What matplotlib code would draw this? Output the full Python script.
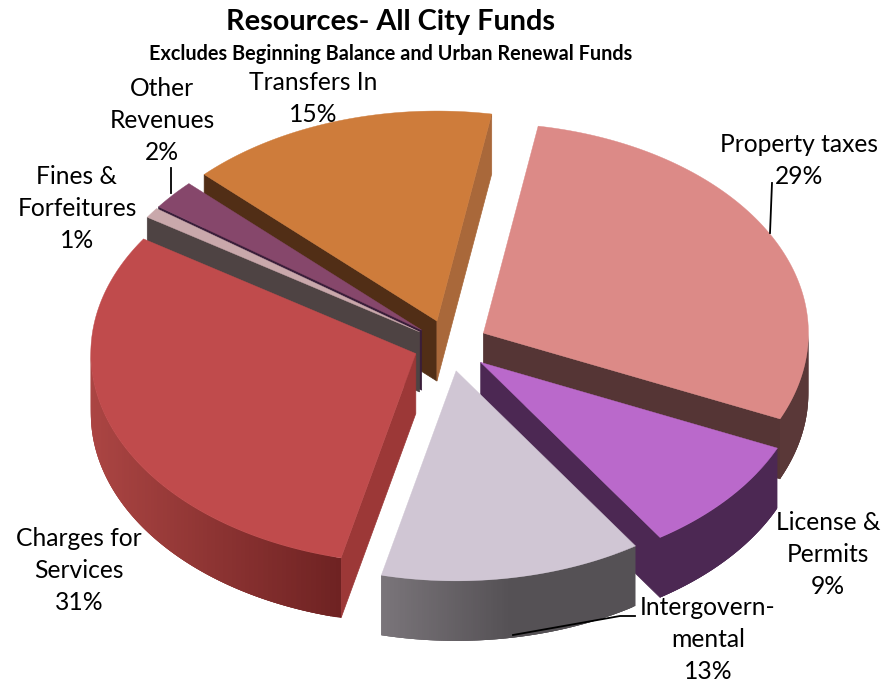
import matplotlib
matplotlib.use('Agg')
import numpy as np
from matplotlib import pyplot as plt
from matplotlib.colors import to_rgb

plt.rcParams['font.family'] = ['Lato', 'DejaVu Sans']

# Data, clockwise from the top of the pie
names = ['Property taxes', 'License &\nPermits', 'Intergovern-\nmental', 'Charges for\nServices',
         'Fines &\nForfeitures', 'Other\nRevenues', 'Transfers In']
values = [29.0, 9.0, 13.0, 30.5, 0.8, 2.3, 15.4]
percent_labels = ['29%', '9%', '13%', '31%', '1%', '2%', '15%']
explode = [0.12, 0.128, 0.125, 0.11, 0.11, 0.11, 0.12]

top_colors = ['#DC8A87', '#BA69CB', '#D0C6D4', '#C04B4C', '#C9A8AB', '#86476B', '#CE7C3B']
start_face = ['#553535', '#4C2853', '#555155', '#9C3837', '#4E4343', '#3A1E3A', '#512E16']
end_face = ['#553535', '#4C2853', '#555155', '#9C3837', '#4E4343', '#3A1E3A', '#A9683A']
rim_left = ['#553535', '#4C2853', '#7A757A', '#AB4543', '#4E4343', '#3A1E3A', '#512E16']
rim_right = ['#5A3838', '#4C2853', '#555155', '#6E2222', '#4E4343', '#3A1E3A', '#512E16']
grad_lo = [0, 0, -0.228, -1, -1, -1, -1]
grad_hi = [1, 1, 0.166, -0.228, 1, 1, 1]

label_pos = [(799, 144), (828, 523), (708, 607.5), (79, 538), (77, 177), (162, 88), (313, 82)]
leaders = [[(772, 183), (770, 233)], [(170.5, 168), (170.5, 193)], [(513, 635), (620, 616), (635, 616)]]

draw_order = [6, 5, 4, 0, 3, 1, 2]

# Pie geometry in pixels
cx, cy = 449, 345
rx, ry = 325, 210
depth = 60
first_angle = 80.3


def edge(a, ox, oy):
    a = np.radians(a)
    return ox + rx * np.cos(a), oy - ry * np.sin(a)


fig = plt.figure(figsize=(8.81, 6.84), dpi=100)
ax = fig.add_axes([0, 0, 1, 1])
ax.set_xlim(0, 881)
ax.set_ylim(684, 0)
ax.axis('off')

sweeps = np.array(values) / sum(values) * 360
starts = first_angle - np.concatenate([[0], np.cumsum(sweeps)[:-1]])

for i in draw_order:
    a0 = starts[i]
    a1 = a0 - sweeps[i]
    mid = np.radians((a0 + a1) / 2)
    ox = cx + explode[i] * rx * np.cos(mid)
    oy = cy - explode[i] * ry * np.sin(mid)

    # side faces, only the ones turned to the viewer
    for a, normal, col in [(a0, a0 + 90, start_face[i]), (a1, a1 - 90, end_face[i])]:
        if np.sin(np.radians(normal)) < 0:
            ex, ey = edge(a, ox, oy)
            ax.fill([ox, ex, ex, ox], [oy, ey, ey + depth, oy + depth], color=col, lw=0.5)

    # outer wall, front half only. each strip runs under the next one so no seams show
    angles = np.linspace(a0, a1, 121)
    c0, c1 = np.array(to_rgb(rim_left[i])), np.array(to_rgb(rim_right[i]))
    for k in range(len(angles) - 1):
        a, b = angles[k], angles[min(k + 3, len(angles) - 1)]
        m = np.radians((angles[k] + angles[k + 1]) / 2)
        if np.sin(m) >= 0:
            continue
        xa, ya = edge(a, ox, oy)
        xb, yb = edge(b, ox, oy)
        t = np.clip((np.cos(m) - grad_lo[i]) / (grad_hi[i] - grad_lo[i]), 0, 1)
        col = c0 + (c1 - c0) * t
        ax.fill([xa, xb, xb, xa], [ya, yb, yb + depth, ya + depth], color=col, lw=0)

    # top
    px, py = edge(angles, ox, oy)
    ax.fill(np.r_[ox, px], np.r_[oy, py], color=top_colors[i], lw=0.3)

# labels
for name, pct, (x, y) in zip(names, percent_labels, label_pos):
    lines = name.split('\n') + [pct]
    for k, line in enumerate(lines):
        ax.text(x, y + k * 32, line, fontsize=17.7, ha='center', va='center', color='black')

for pts in leaders:
    xs, ys = zip(*pts)
    ax.plot(xs, ys, color='black', lw=1.3)

ax.text(391, 22, 'Resources- All City Funds', fontsize=20.8, fontweight='bold', ha='center', va='center')
ax.text(391, 54, 'Excludes Beginning Balance and Urban Renewal Funds', fontsize=14.3, fontweight='bold',
        ha='center', va='center')

plt.savefig('out.png', dpi=100)
